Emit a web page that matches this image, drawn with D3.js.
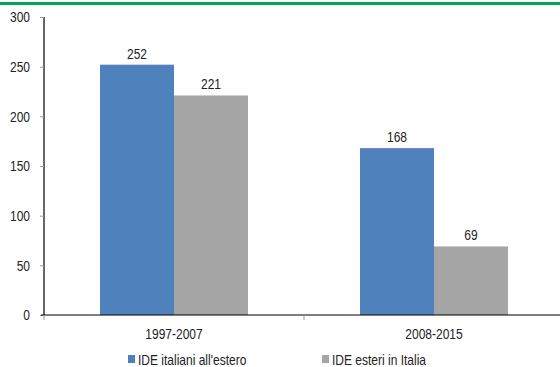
<!DOCTYPE html>
<html>
<head>
<meta charset="utf-8">
<script src="https://cdn.jsdelivr.net/npm/d3@7"></script>
<style>
  html, body { margin: 0; padding: 0; background: #fff; }
  svg { display: block; }
  text { font-family: "Liberation Sans", Arial, sans-serif; fill: #222; }
</style>
</head>
<body>
<svg id="chart" width="560" height="367"></svg>
<script>
// Investimenti diretti esteri: periodi e serie
const periods = ["1997-2007", "2008-2015"];
const seriesNames = ["IDE italiani all'estero", "IDE esteri in Italia"];
const ideItalianiEstero = [252, 168];
const ideEsteriItalia = [221, 69];
const yTicks = [0, 50, 100, 150, 200, 250, 300];
const colors = ["#4f81bd", "#a5a5a5"];

const svg = d3.select("#chart");
const W = 560, H = 367;
const margin = { left: 44, top: 17, bottom: 52 };
const FONT = "Liberation Sans, Arial, sans-serif";

// green header rule
svg.append("rect").attr("x", 0).attr("y", 2).attr("width", W).attr("height", 3).attr("fill", "#00a651");

const x0 = d3.scaleBand().domain(periods).range([margin.left, margin.left + 520]).paddingInner(0).paddingOuter(0);
const x1 = d3.scaleBand().domain(seriesNames).range([0, x0.bandwidth()]).paddingInner(0).paddingOuter(0.757);
const y = d3.scaleLinear().domain([0, 300]).range([315, 17]);

const rows = periods.map((p, i) => ({ period: p, values: [ideItalianiEstero[i], ideEsteriItalia[i]] }));

const g = svg.append("g");
const groups = g.selectAll("g.grp").data(rows).join("g")
  .attr("class", "grp")
  .attr("transform", d => `translate(${x0(d.period)},0)`);

groups.selectAll("rect").data(d => d.values.map((v, k) => ({ v, k }))).join("rect")
  .attr("x", d => x1(seriesNames[d.k]))
  .attr("y", d => y(d.v))
  .attr("width", x1.bandwidth())
  .attr("height", d => y(0) - y(d.v))
  .attr("fill", d => colors[d.k]);

groups.selectAll("text.val").data(d => d.values.map((v, k) => ({ v, k }))).join("text")
  .attr("class", "val")
  .attr("x", d => x1(seriesNames[d.k]) + x1.bandwidth() / 2)
  .attr("y", d => y(d.v) - 6)
  .attr("text-anchor", "middle")
  .attr("font-size", 15)
  .text(d => d.v);

// y axis
const yAxis = svg.append("g").attr("transform", `translate(${margin.left},0)`)
  .call(d3.axisLeft(y).tickValues(yTicks).tickSize(4).tickPadding(10));
yAxis.select(".domain").attr("stroke", "#000").attr("stroke-width", 1.2).attr("d", `M0,${y(300)}V${y(0)}`);
yAxis.selectAll(".tick line").attr("stroke", "#999");
yAxis.selectAll(".tick text").attr("font-size", 15).attr("fill", "#222").attr("font-family", FONT);

// x axis
const xAxis = svg.append("g").attr("transform", `translate(0,${y(0)})`)
  .call(d3.axisBottom(x0).tickSize(0).tickPadding(13));
xAxis.select(".domain").remove();
xAxis.selectAll(".tick text").attr("font-size", 15).attr("fill", "#222").attr("font-family", FONT);
svg.append("line").attr("x1", margin.left - 3).attr("x2", W).attr("y1", y(0)).attr("y2", y(0))
  .attr("stroke", "#000").attr("stroke-width", 1.2);
// tick marks at band boundaries
const bounds = [x0.range()[0], x0(periods[1])];
svg.selectAll("line.bt").data(bounds).join("line").attr("class", "bt")
  .attr("x1", d => d).attr("x2", d => d)
  .attr("y1", y(0)).attr("y2", y(0) + 5)
  .attr("stroke", "#999");

// legend
const legendX = [128, 322];
const leg = svg.selectAll("g.leg").data(seriesNames).join("g").attr("class", "leg")
  .attr("transform", (d, i) => `translate(${legendX[i]},355)`);
leg.append("rect").attr("width", 7).attr("height", 8).attr("fill", (d, i) => colors[i]);
leg.append("text").attr("x", 10).attr("y", 10).attr("font-size", 15).text(d => d);

// narrow lettering: condense every label horizontally
svg.selectAll("text").each(function () {
  const len = this.getComputedTextLength();
  d3.select(this).attr("textLength", len * 0.8).attr("lengthAdjust", "spacingAndGlyphs");
});
</script>
</body>
</html>
